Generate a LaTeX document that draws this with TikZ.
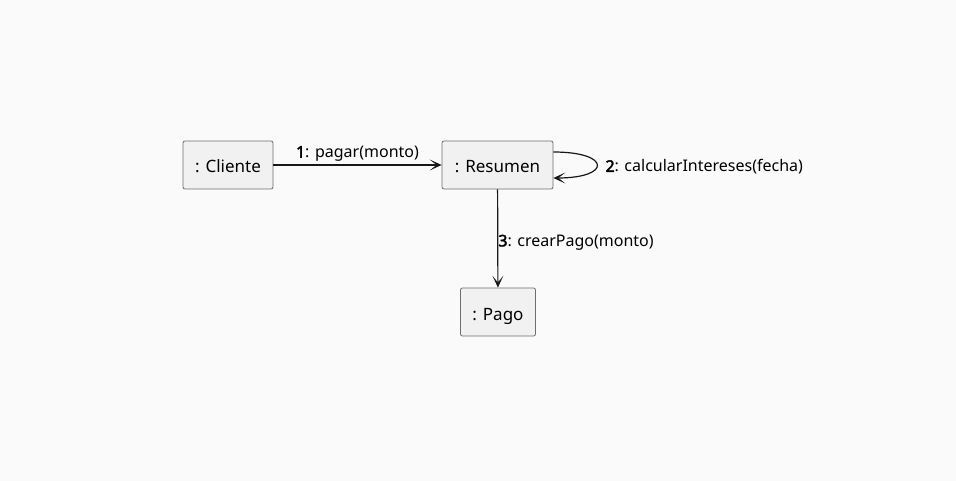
\documentclass[tikz,border=0pt]{standalone}
\usepackage{fontspec}
\setmainfont{Noto Sans}[AutoFakeBold=2.5]
\usetikzlibrary{arrows.meta,positioning}
\definecolor{bgcol}{HTML}{FAFAFA}
\definecolor{boxfill}{HTML}{F1F1F1}
\definecolor{boxline}{HTML}{6E6E6E}
\definecolor{msgline}{HTML}{181818}

\begin{document}
\begin{tikzpicture}[
  x=1pt, y=-1pt,
  >={Stealth[length=12pt, width=11pt, inset=7pt]},
  object/.style={draw=boxline, fill=boxfill, rounded corners=2pt, line width=0.8pt, minimum height=48pt, inner xsep=9pt, text height=16pt, text depth=0pt, font=\fontsize{17}{20}\selectfont},
  msg/.style={->, draw=msgline, line width=1.2pt},
  msglabel/.style={font=\fontsize{16}{18}\selectfont, inner sep=2pt}
]
  \useasboundingbox[fill=bgcol] (0,0) rectangle (956,481);

  \node[object, minimum width=90pt] (cliente) at (228,165) {: Cliente};
  \node[object, minimum width=111pt] (resumen) at (497.5,165) {: Resumen};
  \node[object, minimum width=75pt] (pago) at (498,312) {: Pago};

  \draw[msg] (cliente) -- node[msglabel, above, yshift=1pt]{\textbf{1}: pagar(monto)} (resumen);
  \draw[msg] ([yshift=13pt]resumen.east) .. controls +(58pt,0pt) and +(58pt,0pt) .. node[msglabel, right, xshift=6pt, yshift=-2pt]{\textbf{2}: calcularIntereses(fecha)} ([yshift=-13pt]resumen.east);
  \draw[msg] (resumen) -- node[msglabel, right, xshift=-2pt, yshift=-4pt]{\textbf{3}: crearPago(monto)} (pago);
\end{tikzpicture}
\end{document}
